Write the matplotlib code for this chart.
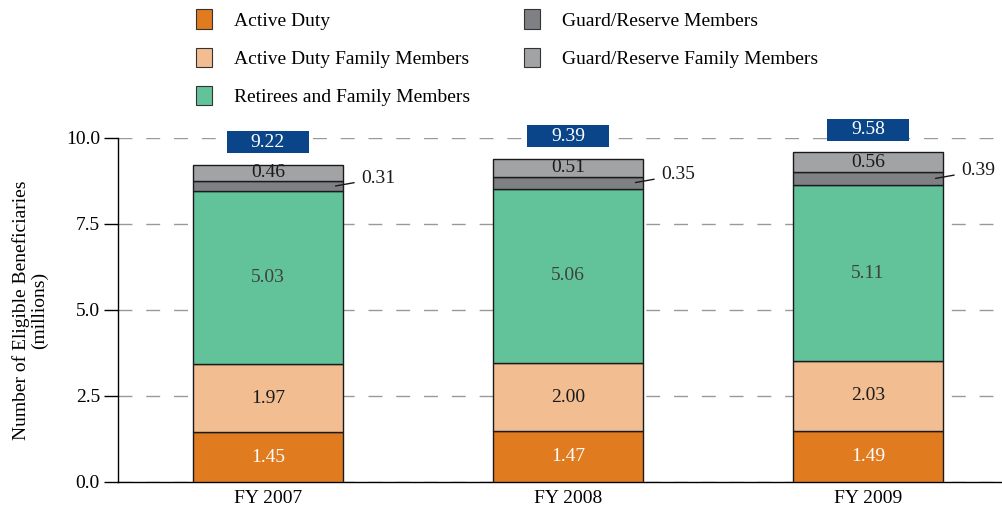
import numpy as np
import matplotlib
matplotlib.use("Agg")
import matplotlib.pyplot as plt
from matplotlib.patches import Patch, Rectangle

plt.rcParams["font.family"] = ["Liberation Serif", "DejaVu Serif"]

years = ["FY 2007", "FY 2008", "FY 2009"]
active_duty = [1.45, 1.47, 1.49]
ad_family = [1.97, 2.00, 2.03]
retirees = [5.03, 5.06, 5.11]
guard_reserve = [0.31, 0.35, 0.39]
gr_family = [0.46, 0.51, 0.56]
totals = [9.22, 9.39, 9.58]

series = [
    ("Active Duty", active_duty, "#E07B1F", "white"),
    ("Active Duty Family Members", ad_family, "#F2BD90", "#1a1a1a"),
    ("Retirees and Family Members", retirees, "#62C39A", "#404040"),
    ("Guard/Reserve Members", guard_reserve, "#7F8083", None),
    ("Guard/Reserve Family Members", gr_family, "#A1A3A5", "#1a1a1a"),
]

FS = 14

fig = plt.figure(figsize=(10.03, 5.12), dpi=100)
ax = fig.add_axes([118 / 1003, 30 / 512, 1 - 118 / 1003, 344 / 512])

x = np.arange(len(years))
width = 0.5
bottom = np.zeros(len(years))
for name, vals, color, tcolor in series:
    vals = np.array(vals)
    ax.bar(x, vals, width, bottom=bottom, color=color, edgecolor="#1a1a1a",
           linewidth=1.0, label=name, zorder=3)
    for i in range(len(x)):
        mid = bottom[i] + vals[i] / 2
        if tcolor is None:
            # callout label for the thin segment
            xr = x[i] + width / 2
            ax.annotate(f"{vals[i]:.2f}", xy=(xr - 0.025, mid), xytext=(xr + 0.06, mid + 0.22),
                        fontsize=FS, va="center", ha="left", color="#1a1a1a",
                        arrowprops=dict(arrowstyle="-", color="#1a1a1a", lw=1.0,
                                        shrinkA=3, shrinkB=0), zorder=5)
        else:
            ax.text(x[i], mid, f"{vals[i]:.2f}", ha="center", va="center",
                    fontsize=FS, color=tcolor, zorder=5)
    bottom += vals

# total boxes above each bar
bw, bh = 0.275, 0.64
for i, t in enumerate(totals):
    yc = t + 0.66
    ax.add_patch(Rectangle((x[i] - bw / 2, yc - bh / 2), bw, bh, facecolor="#0B4589",
                           edgecolor="none", zorder=6, clip_on=False))
    ax.text(x[i], yc, f"{t:.2f}", ha="center", va="center", fontsize=FS,
            color="white", zorder=7, clip_on=False)

ax.set_xlim(-0.5, 2.45)
ax.set_ylim(0, 10)
ax.set_yticks([0, 2.5, 5.0, 7.5, 10.0])
ax.set_yticklabels(["0.0", "2.5", "5.0", "7.5", "10.0"])
ax.set_xticks(x)
ax.set_xticklabels(years)
ax.tick_params(axis="x", length=0, pad=6, labelsize=FS)
ax.tick_params(axis="y", length=10, width=1.0, direction="out", pad=3, labelsize=FS)
ax.yaxis.grid(True, color="#999999", linestyle=(0, (10, 10)), linewidth=1.0, zorder=0)
ax.set_axisbelow(True)
for s in ["top", "right"]:
    ax.spines[s].set_visible(False)
ax.spines["left"].set_linewidth(1.0)
ax.spines["bottom"].set_linewidth(1.0)
ax.set_ylabel("Number of Eligible Beneficiaries\n(millions)", fontsize=FS, labelpad=13,
              linespacing=1.0)

handles = [Patch(facecolor=c, edgecolor="#333333", linewidth=0.8, label=n)
           for n, _, c, _ in series]
fig.legend(handles=handles, ncol=2, loc="upper left", bbox_to_anchor=(179 / 1003, 1.016),
           frameon=False, fontsize=FS, handlelength=0.82, handleheight=1.15,
           handletextpad=1.1, labelspacing=0.93, columnspacing=2.8)

fig.savefig("out.png", dpi=100)
